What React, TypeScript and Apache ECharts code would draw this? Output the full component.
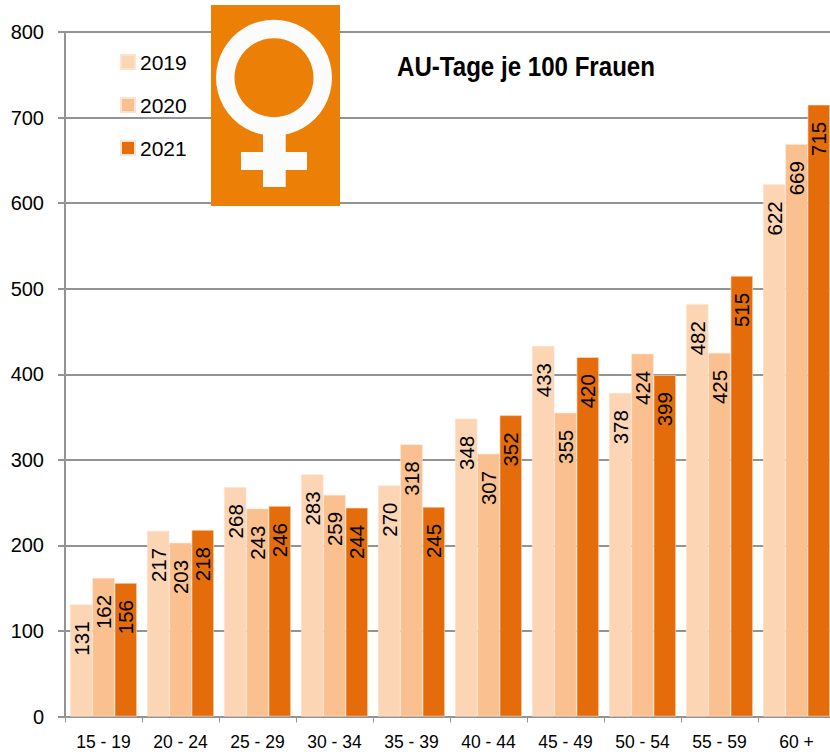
import React, { useEffect, useRef } from "react";
import * as echarts from "echarts";

const categories = ["15 - 19","20 - 24","25 - 29","30 - 34","35 - 39","40 - 44","45 - 49","50 - 54","55 - 59","60 +"];
const years = ["2019","2020","2021"];
const v2019 = [131,217,268,283,270,348,433,378,482,622];
const v2020 = [162,203,243,259,318,307,355,424,425,669];
const v2021 = [156,218,246,244,245,352,420,399,515,715];
const colors = ["#FCD5B5","#FAC090","#E46C0A"];
const font = "'Liberation Sans', Arial, sans-serif";
const axisGrey = "#939393";

export default function App() {
  const ref = useRef<HTMLDivElement>(null);
  useEffect(() => {
    document.body.style.margin = "0";
    document.body.style.overflow = "hidden";
    const chart = echarts.init(ref.current!, undefined, { renderer: "svg" });
    const series = [v2019, v2020, v2021].map((d, i) => ({
      type: "bar" as const,
      name: years[i],
      data: d,
      barWidth: 22.3,
      barGap: "0%",
      itemStyle: { color: colors[i], borderColor: "#FDE3CE", borderWidth: 0.6 },
      label: {
        show: true,
        position: "insideTop" as const,
        rotate: 90,
        distance: 16,
        offset: [-1, 0],
        align: "right" as const,
        verticalAlign: "middle" as const,
        fontFamily: font,
        fontSize: 20.5,
        color: "#000",
      },
    }));
    chart.setOption({
      animation: false,
      textStyle: { fontFamily: font },
      grid: { left: 65, top: 32, width: 770, height: 684.5, containLabel: false },
      legend: {
        orient: "vertical",
        left: 115,
        top: 45,
        itemWidth: 14,
        itemHeight: 14,
        itemGap: 19,
        selectedMode: false,
        icon: "rect",
        data: years,
        textStyle: { fontFamily: font, fontSize: 21, lineHeight: 24, color: "#000", padding: 0 },
      },
      xAxis: {
        type: "category",
        data: categories,
        axisLine: { lineStyle: { color: axisGrey, width: 2 } },
        axisTick: { show: true, length: 6, lineStyle: { color: axisGrey, width: 1 } },
        axisLabel: { color: "#000", fontFamily: font, fontSize: 17.5, margin: 16, interval: 0 },
      },
      yAxis: {
        type: "value",
        min: 0,
        max: 800,
        interval: 100,
        axisLine: { show: true, lineStyle: { color: axisGrey, width: 2 } },
        axisTick: { show: true, length: 7, lineStyle: { color: axisGrey, width: 2 } },
        splitLine: { show: true, lineStyle: { color: axisGrey, width: 2 } },
        axisLabel: { color: "#000", fontFamily: font, fontSize: 20, margin: 21 },
      },
      series,
      graphic: [
        { type: "rect", z: 10, shape: { x: 211, y: 5, width: 129, height: 201 }, style: { fill: "#EC7F05" } },
        { type: "ring", z: 11, shape: { cx: 274, cy: 77.7, r: 58, r0: 39.5 }, style: { fill: "#FCFCFC" } },
        { type: "rect", z: 11, shape: { x: 263, y: 128, width: 22.7, height: 59 }, style: { fill: "#FCFCFC" } },
        { type: "rect", z: 11, shape: { x: 241, y: 152, width: 66, height: 18 }, style: { fill: "#FCFCFC" } },
        {
          type: "text",
          z: 11,
          x: 397,
          y: 67,
          scaleX: 0.893,
          style: {
            text: "AU-Tage je 100 Frauen",
            fontFamily: font,
            fontWeight: "bold",
            fontSize: 27,
            fill: "#000",
            verticalAlign: "middle",
          },
        },
      ],
    });
    return () => chart.dispose();
  }, []);
  return (
    <div style={{ width: 830, height: 754, overflow: "hidden" }}>
      <div ref={ref} style={{ width: 840, height: 754 }} />
    </div>
  );
}
